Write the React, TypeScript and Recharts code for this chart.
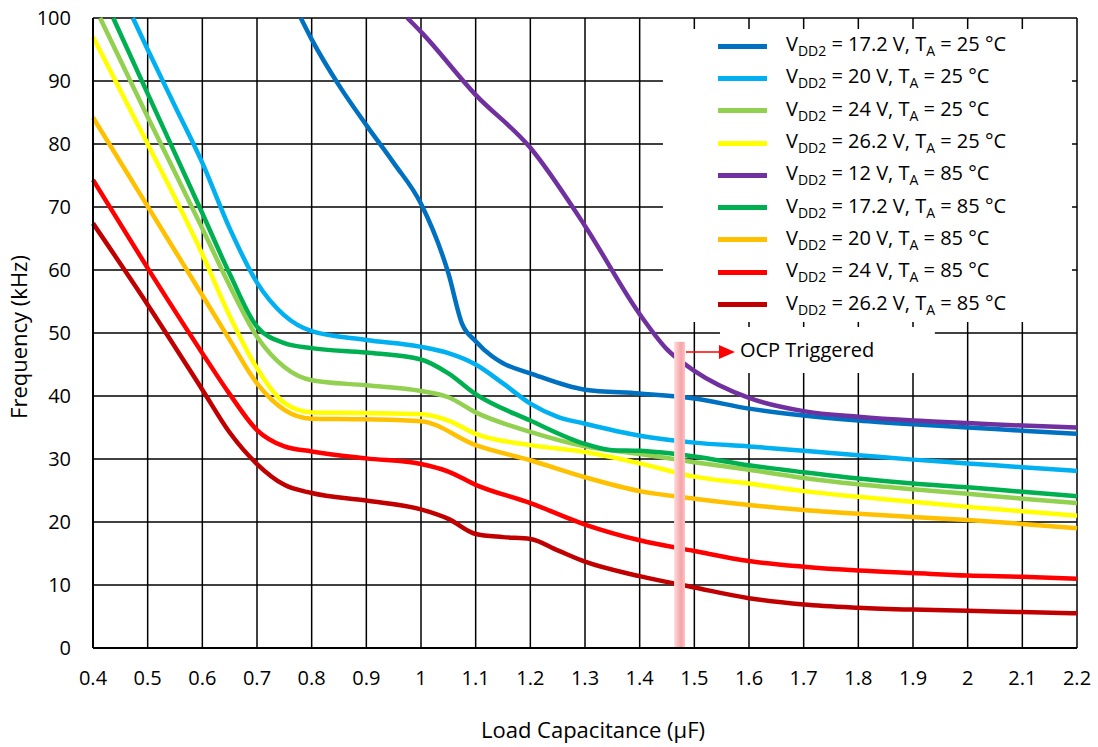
import React from 'react';
import {
  LineChart,
  Line,
  XAxis,
  YAxis,
  CartesianGrid,
  Legend,
  ReferenceArea,
  ReferenceLine,
} from 'recharts';

// axis ticks
const X_TICKS = [0.4, 0.5, 0.6, 0.7, 0.8, 0.9, 1, 1.1, 1.2, 1.3, 1.4, 1.5, 1.6, 1.7, 1.8, 1.9, 2, 2.1, 2.2];
const Y_TICKS = [0, 10, 20, 30, 40, 50, 60, 70, 80, 90, 100];

// legend text parts
const SERIES_VDD = ['17.2', '20', '24', '26.2', '12', '17.2', '20', '24', '26.2'];
const SERIES_TA = ['25', '25', '25', '25', '85', '85', '85', '85', '85'];
const SERIES_COLORS = ['#0070C0', '#00B0F0', '#92D050', '#FFFF00', '#7030A0', '#00B050', '#FFC000', '#FF0000', '#C00000'];

// VDD2 = 17.2 V, TA = 25 °C
const cap1 = [0.78, 0.8, 0.85, 0.9, 0.95, 1.0, 1.05, 1.075, 1.1, 1.13, 1.15, 1.2, 1.3, 1.4, 1.5, 1.6, 1.7, 1.8, 1.9, 2.0, 2.1, 2.2];
const freq1 = [100, 96.6, 89.3, 83, 77, 70.5, 59.5, 51.5, 48.7, 46.3, 45.2, 43.6, 41.0, 40.4, 39.6, 38.0, 36.9, 36.1, 35.5, 35.0, 34.5, 34.0];

// VDD2 = 20 V, TA = 25 °C
const cap2 = [0.473, 0.5, 0.55, 0.6, 0.65, 0.7, 0.75, 0.8, 0.9, 1.0, 1.05, 1.1, 1.15, 1.2, 1.25, 1.3, 1.4, 1.5, 1.6, 1.7, 1.8, 1.9, 2.0, 2.1, 2.2];
const freq2 = [100, 95, 86, 77, 66.6, 58, 52.8, 50.3, 48.9, 47.8, 46.8, 45, 42, 38.8, 36.7, 35.6, 33.7, 32.6, 32.0, 31.3, 30.6, 29.9, 29.3, 28.7, 28.1];

// VDD2 = 24 V, TA = 25 °C
const cap3 = [0.413, 0.5, 0.6, 0.65, 0.7, 0.75, 0.8, 0.9, 1.0, 1.05, 1.1, 1.2, 1.3, 1.4, 1.5, 1.6, 1.7, 1.8, 1.9, 2.0, 2.1, 2.2];
const freq3 = [100, 84.3, 66.6, 57.5, 49.4, 44.6, 42.5, 41.7, 40.8, 39.8, 37.4, 34.3, 32, 30.8, 29.5, 28.3, 27.0, 26.0, 25.2, 24.5, 23.7, 23.0];

// VDD2 = 26.2 V, TA = 25 °C
const cap4 = [0.4, 0.5, 0.6, 0.65, 0.7, 0.75, 0.8, 0.9, 1.0, 1.05, 1.1, 1.2, 1.3, 1.4, 1.5, 1.6, 1.7, 1.8, 1.9, 2.0, 2.1, 2.2];
const freq4 = [97, 80, 62.5, 52.7, 44.4, 38.9, 37.4, 37.3, 37.1, 36.1, 34.0, 32.2, 31.1, 29.3, 27.2, 26.1, 24.9, 24.0, 23.2, 22.4, 21.7, 21.0];

// VDD2 = 12 V, TA = 85 °C
const cap5 = [0.975, 1.0, 1.1, 1.2, 1.3, 1.4, 1.45, 1.5, 1.6, 1.7, 1.8, 1.9, 2.0, 2.1, 2.2];
const freq5 = [100, 97.8, 87.8, 79.4, 67, 53, 47.4, 44, 39.7, 37.6, 36.7, 36.1, 35.7, 35.3, 35.0];

// VDD2 = 17.2 V, TA = 85 °C
const cap6 = [0.437, 0.5, 0.6, 0.65, 0.7, 0.75, 0.8, 0.9, 1.0, 1.05, 1.1, 1.2, 1.3, 1.35, 1.4, 1.5, 1.6, 1.7, 1.8, 1.9, 2.0, 2.1, 2.2];
const freq6 = [100, 88, 69, 59.4, 51, 48.4, 47.6, 46.9, 45.8, 43.6, 40.3, 36.1, 32.4, 31.4, 31.3, 30.4, 29.0, 27.9, 26.9, 26.1, 25.5, 24.8, 24.1];

// VDD2 = 20 V, TA = 85 °C
const cap7 = [0.4, 0.5, 0.6, 0.65, 0.7, 0.75, 0.8, 0.9, 1.0, 1.1, 1.2, 1.3, 1.4, 1.5, 1.6, 1.7, 1.8, 1.9, 2.0, 2.1, 2.2];
const freq7 = [84.2, 70.1, 56, 48.9, 42, 37.8, 36.4, 36.3, 36.0, 32.2, 29.8, 27.1, 24.9, 23.7, 22.7, 21.9, 21.3, 20.8, 20.3, 19.7, 19.0];

// VDD2 = 24 V, TA = 85 °C
const cap8 = [0.4, 0.5, 0.6, 0.65, 0.7, 0.75, 0.8, 0.9, 1.0, 1.05, 1.1, 1.2, 1.3, 1.4, 1.5, 1.6, 1.7, 1.8, 1.9, 2.0, 2.1, 2.2];
const freq8 = [74.3, 60.3, 46.8, 40.3, 34.6, 32.0, 31.2, 30.1, 29.2, 28.0, 25.9, 23.0, 19.6, 17.1, 15.4, 13.8, 12.9, 12.3, 11.9, 11.5, 11.3, 11.0];

// VDD2 = 26.2 V, TA = 85 °C
const cap9 = [0.4, 0.5, 0.6, 0.65, 0.7, 0.75, 0.8, 0.9, 1.0, 1.05, 1.1, 1.15, 1.2, 1.25, 1.3, 1.4, 1.5, 1.6, 1.7, 1.8, 1.9, 2.0, 2.1, 2.2];
const freq9 = [67.4, 54.5, 41, 34.2, 29.2, 25.9, 24.6, 23.4, 22, 20.5, 18.1, 17.6, 17.3, 15.5, 13.7, 11.4, 9.6, 7.9, 6.9, 6.4, 6.1, 5.9, 5.7, 5.5];

const CAPS = [cap1, cap2, cap3, cap4, cap5, cap6, cap7, cap8, cap9];
const FREQS = [freq1, freq2, freq3, freq4, freq5, freq6, freq7, freq8, freq9];

const seriesData = CAPS.map((caps, i) => caps.map((cap, j) => ({ cap, freq: FREQS[i][j] })));

const FONT = '"Open Sans", sans-serif';

const renderLegend = () => (
  <div style={{ paddingTop: 1, fontFamily: FONT }}>
    {SERIES_VDD.map((v, i) => (
      <div key={i} style={{ display: 'flex', alignItems: 'center', height: 32.3 }}>
        <span
          style={{
            display: 'inline-block',
            width: 49,
            height: 5,
            background: SERIES_COLORS[i],
            marginLeft: 55,
            marginRight: 19,
          }}
        />
        <span style={{ fontSize: 20, color: '#000', whiteSpace: 'nowrap', lineHeight: 1 }}>
          V<span style={{ fontSize: 14, verticalAlign: '-5px' }}>DD2</span> = {v} V, T
          <span style={{ fontSize: 14, verticalAlign: '-5px' }}>A</span> = {SERIES_TA[i]} °C
        </span>
      </div>
    ))}
  </div>
);

const PinkBar = (props: any) => {
  const { x, y, width, height } = props;
  return (
    <g>
      <defs>
        <linearGradient id="ocpGrad" x1="0" y1="0" x2="1" y2="0">
          <stop offset="0%" stopColor="#FDDCDC" />
          <stop offset="65%" stopColor="#F6A3A6" />
          <stop offset="100%" stopColor="#FBC4C6" />
        </linearGradient>
      </defs>
      <rect x={x} y={y} width={width} height={height} fill="url(#ocpGrad)" />
    </g>
  );
};

const Arrow = (props: any) => {
  const { x1, y1, x2 } = props;
  return (
    <g>
      <line x1={x1} y1={y1} x2={x2 - 14} y2={y1} stroke="#FF0000" strokeWidth={1.5} />
      <polygon points={`${x2 - 16},${y1 - 7} ${x2},${y1} ${x2 - 16},${y1 + 7}`} fill="#FF0000" />
    </g>
  );
};

const App: React.FC = () => {
  return (
    <div style={{ position: 'absolute', left: 0, top: 0, fontFamily: FONT }}>
      <LineChart width={1098} height={747} margin={{ top: 18, right: 21, left: 0, bottom: 0 }}>
        <CartesianGrid stroke="#000" strokeWidth={1.5} />
        <XAxis
          type="number"
          dataKey="cap"
          domain={[0.4, 2.2]}
          ticks={X_TICKS}
          interval={0}
          height={99}
          tickLine={false}
          tickSize={0}
          tickMargin={23}
          axisLine={{ stroke: '#000', strokeWidth: 2 }}
          tick={{ fill: '#000', fontSize: 20, fontFamily: FONT }}
          label={{ value: 'Load Capacitance (µF)', position: 'insideBottom', offset: 9, fill: '#000', fontSize: 22, dx: 8 }}
        />
        <YAxis
          type="number"
          domain={[0, 100]}
          ticks={Y_TICKS}
          interval={0}
          width={93}
          tickLine={false}
          tickSize={0}
          tickMargin={22}
          axisLine={{ stroke: '#000', strokeWidth: 2 }}
          tick={{ fill: '#000', fontSize: 20, fontFamily: FONT }}
          label={{
            value: 'Frequency (kHz)',
            angle: -90,
            position: 'insideLeft',
            offset: 19,
            dy: 4,
            fill: '#000',
            fontSize: 22,
            style: { textAnchor: 'middle' },
          }}
        />
        <ReferenceArea
          x1={1.5469}
          x2={1.94}
          y1={43.65}
          y2={50.95}
          fill="#fff"
          fillOpacity={1}
          stroke="none"
          zIndex={50}
          label={{ value: 'OCP Triggered', position: 'insideLeft', offset: 20, fill: '#000', fontSize: 20 }}
        />
        {seriesData.map((d, i) => (
          <Line
            key={i}
            data={d}
            dataKey="freq"
            type="monotone"
            stroke={SERIES_COLORS[i]}
            strokeWidth={4.5}
            dot={false}
            activeDot={false}
            isAnimationActive={false}
          />
        ))}
        <ReferenceArea x1={1.463} x2={1.483} y1={0} y2={48.6} zIndex={450} shape={PinkBar} />
        <ReferenceLine
          segment={[{ x: 1.4847, y: 47 }, { x: 1.5743, y: 47 }]}
          zIndex={460}
          shape={Arrow}
        />
        <Legend
          content={renderLegend}
          layout="vertical"
          verticalAlign="middle"
          align="center"
          wrapperStyle={{ left: 663, top: 29, width: 409, height: 293, background: '#fff' }}
        />
      </LineChart>
    </div>
  );
};

export default App;
